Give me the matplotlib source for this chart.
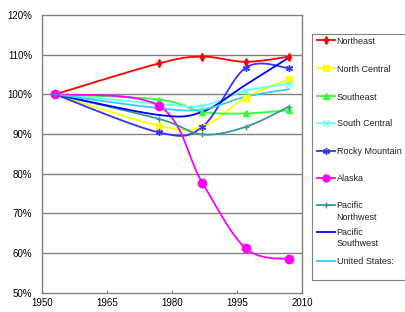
import numpy as np
import matplotlib
matplotlib.use("Agg")
import matplotlib.pyplot as plt
from matplotlib.lines import Line2D
from matplotlib.patches import Rectangle
from matplotlib.transforms import Affine2D

plt.rcParams['font.family'] = ['Liberation Sans', 'DejaVu Sans']

years = [1953, 1977, 1987, 1997, 2007]
northeast = [100, 107.8, 109.5, 108.2, 109.5]
north_central = [100, 92.1, 91.8, 99.2, 103.8]
southeast = [100, 98.7, 95.6, 95.2, 96.0]
south_central = [100, 97.6, 97.1, 100.9, 102.6]
rocky_mountain = [100, 90.4, 91.8, 106.7, 106.6]
alaska = [100, 97.1, 77.7, 61.2, 58.4]
pacific_nw = [100, 93.8, 89.9, 91.8, 96.9]
pacific_sw = [100, 94.8, 95.6, 102.4, 109.3]
united_states = [100, 96.5, 96.2, 99.4, 101.3]

series = [
    ("Northeast", northeast, "#ff0000", "d", 4),
    ("North Central", north_central, "#ffff00", "s", 5),
    ("Southeast", southeast, "#33ff33", "^", 5),
    ("South Central", south_central, "#66ffff", "x", 4),
    ("Rocky Mountain", rocky_mountain, "#3333ff", (6, 2, 0), 5),
    ("Alaska", alaska, "#ff00ff", "o", 6),
    ("Pacific\nNorthwest", pacific_nw, "#339999", "+", 5),
    ("Pacific\nSouthwest", pacific_sw, "#0000ff", None, 0),
    ("United States:", united_states, "#33ccff", None, 0),
]
legend_rows = [40, 68, 96, 123, 151, 177.5, 205, 231.5, 261]  # px from top


def smooth(xs, ys, n=30):
    # Excel-like smoothed line: cubic Bezier with Catmull-Rom control points
    p = np.column_stack([xs, ys]).astype(float)
    ext = np.vstack([p[0], p, p[-1]])
    out = []
    t = np.linspace(0, 1, n)[:, None]
    for i in range(len(p) - 1):
        p0, p1, p2, p3 = ext[i], ext[i + 1], ext[i + 2], ext[i + 3]
        c1 = p1 + (p2 - p0) / 6.0
        c2 = p2 - (p3 - p1) / 6.0
        seg = ((1 - t) ** 3) * p1 + 3 * ((1 - t) ** 2) * t * c1 + 3 * (1 - t) * t ** 2 * c2 + t ** 3 * p2
        out.append(seg if i == 0 else seg[1:])
    out = np.vstack(out)
    return out[:, 0], out[:, 1]


W, H = 405, 312
fig = plt.figure(figsize=(W / 100, H / 100), dpi=100)
ax = fig.add_axes([42 / W, 1 - 292.7 / H, 260 / W, (292.7 - 15) / H])

for name, vals, col, mk, ms in series:
    sx, sy = smooth(years, vals)
    ax.plot(sx, sy, color=col, lw=1.3, zorder=3)
    if mk is not None:
        ax.plot(years, vals, linestyle='none', marker=mk, markersize=ms, color=col,
                markeredgecolor=col, zorder=4)

ax.set_xlim(1950, 2010)
ax.set_ylim(50, 120)
ax.set_xticks([1950, 1965, 1980, 1995, 2010])
ax.set_yticks(np.arange(50, 121, 10))
ax.set_yticklabels([f"{v}%" for v in range(50, 121, 10)])
ax.tick_params(axis='y', length=0, pad=7, labelsize=7)
ax.tick_params(axis='x', direction='in', length=2.5, pad=4, labelsize=7, color='#808080')
for y in range(60, 120, 10):
    ax.axhline(y, color='#808080', lw=1, zorder=1)
for s in ax.spines.values():
    s.set_color('#808080')
    s.set_linewidth(1)

# Legend drawn in figure pixel coordinates (y from top)
px = Affine2D().scale(1 / W, -1 / H).translate(0, 1) + fig.transFigure
fig.patches.append(Rectangle((312.3, 34), 120, 246, transform=px, fill=False,
                             edgecolor='#808080', lw=0.8))
for (name, vals, col, mk, ms), yr in zip(series, legend_rows):
    fig.lines.append(Line2D([316.7, 335], [yr, yr], transform=px, color=col, lw=1.3))
    if mk is not None:
        fig.lines.append(Line2D([326], [yr], transform=px, color=col, marker=mk,
                                markersize=min(ms, 5), markeredgecolor=col, linestyle='none'))
    for k, line in enumerate(name.split("\n")):
        fig.text(336.7, yr + k * 11.5, line, transform=px, fontsize=6.5,
                 va='center_baseline', ha='left', color='#222222')

fig.savefig("out.png", dpi=100)
